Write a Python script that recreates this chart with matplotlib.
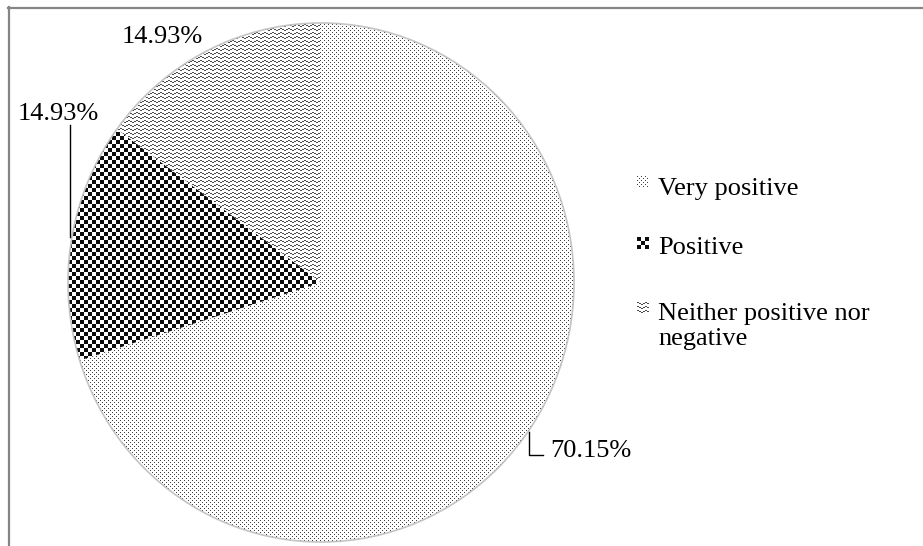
import numpy as np
import matplotlib
matplotlib.use('Agg')
import matplotlib.pyplot as plt
from matplotlib.patches import Ellipse

categories = ['Very positive', 'Positive', 'Neither positive nor\nnegative']
shares = [70.15, 14.93, 14.93]

W, H = 923, 546
plt.rcParams['font.family'] = ['Liberation Serif', 'DejaVu Serif']

# pixel textures for the slices
yy, xx = np.mgrid[0:H, 0:W]
dots = np.ones((H, W))
dots[((xx % 4 == 0) & (yy % 4 == 0)) | ((xx % 4 == 2) & (yy % 4 == 2))] = 0.25
checks = np.where(((xx // 4) + (yy // 4)) % 2 == 0, 0.05, 1.0)
off = np.array([0, 0, 1, 1, 2, 2, 1, 1])
waves = np.where((yy - off[xx % 8]) % 4 == 0, 0.3, 1.0)
textures = [dots, checks, waves]

fig = plt.figure(figsize=(W / 100, H / 100), dpi=100)

# slightly tall pie: squeeze the y scale
k = 253 / 259.5
cx, cy, r = 321, (H - 282.5) * k, 253
ax = fig.add_axes([0, 0, 1, 1])
wedges, _ = ax.pie(shares, startangle=90, counterclock=False, center=(cx, cy), radius=r,
                   wedgeprops=dict(facecolor='none', edgecolor='none'))
for wedge, tex in zip(wedges, textures):
    im = ax.imshow(tex, cmap='gray', vmin=0, vmax=1, extent=(0, W, 0, H * k),
                   origin='upper', interpolation='nearest', aspect='auto')
    im.set_clip_path(wedge)
ax.add_patch(Ellipse((cx, cy), 2 * r, 2 * r, fill=False, edgecolor='#c4c4c4', lw=1.2))
ax.set_xlim(0, W)
ax.set_ylim(0, H * k)
ax.set_aspect('auto')
ax.axis('off')

# overlay in pixel coordinates for labels, legend and frame
ov = fig.add_axes([0, 0, 1, 1])
ov.set_xlim(0, W)
ov.set_ylim(H, 0)
ov.axis('off')
ov.patch.set_alpha(0)

ov.plot([8, W], [7.5, 7.5], color='#858585', lw=1.6)
ov.plot([8.5, 8.5], [7, H], color='#858585', lw=1.6)

fs = 19
ov.text(162, 43, f'{shares[2]:.2f}%', ha='center', va='baseline', fontsize=fs)
ov.text(58, 120, f'{shares[1]:.2f}%', ha='center', va='baseline', fontsize=fs)
ov.plot([70, 70], [125, 237], color='black', lw=1)
ov.text(550, 457, f'{shares[0]:.2f}%', ha='left', va='baseline', fontsize=fs)
ov.plot([529, 529, 543], [432, 455, 455], color='black', lw=1)

# legend (baseline of the last line for the two-line entry)
marker_y = [176, 237, 302]
text_base = [195, 254, 345]
for cat, tex, my, ty in zip(categories, textures, marker_y, text_base):
    ov.imshow(tex[:12, :12], cmap='gray', vmin=0, vmax=1, extent=(637, 649, my + 12, my),
              interpolation='nearest', aspect='auto')
    ov.text(658, ty, cat, ha='left', va='baseline', fontsize=fs, linespacing=1.17)
ov.set_xlim(0, W)
ov.set_ylim(H, 0)

fig.savefig('out.png', dpi=100)
